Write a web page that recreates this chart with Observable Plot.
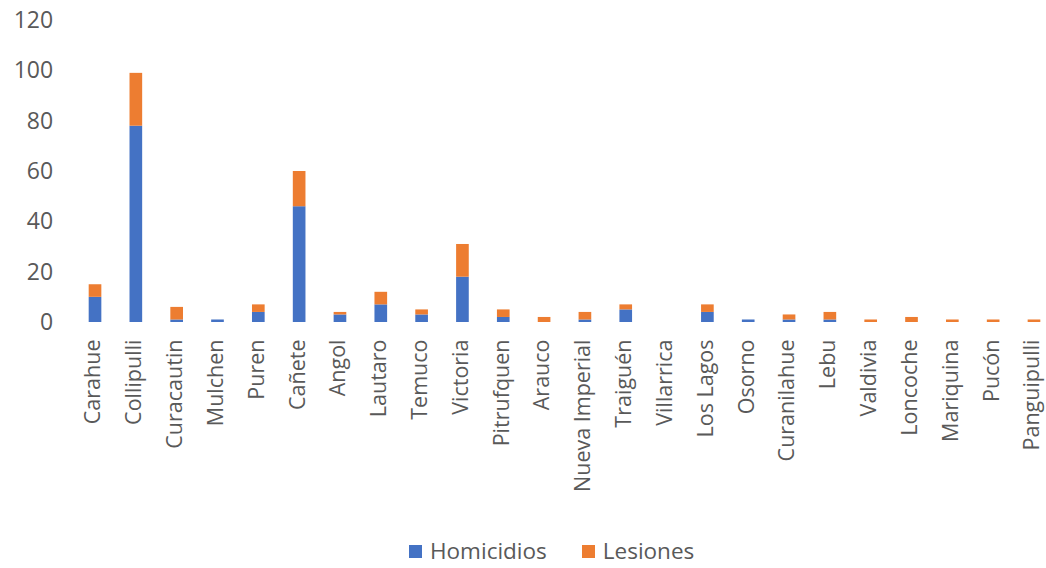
<!DOCTYPE html>
<html><head><meta charset="utf-8">
<script src="https://cdn.jsdelivr.net/npm/d3@7"></script>
<script src="https://cdn.jsdelivr.net/npm/@observablehq/plot@0.6"></script>
<style>
body{margin:0;background:#fff;font-family:"Open Sans",sans-serif;}
#wrap{position:relative;width:1046px;height:568px;overflow:hidden;}
#legend{position:absolute;top:535px;left:409px;display:flex;align-items:center;font-size:22.5px;color:#595959;line-height:32px;white-space:nowrap;}
#legend span.item{display:flex;align-items:center;margin-right:35px;}
#legend span.sw{display:inline-block;width:13px;height:13px;margin-right:8px;}
</style></head>
<body><div id="wrap"><div id="chart"></div><div id="legend"></div></div>
<script>
const comunas = ["Carahue","Collipulli","Curacautin","Mulchen","Puren","Cañete","Angol","Lautaro","Temuco","Victoria","Pitrufquen","Arauco","Nueva Imperial","Traiguén","Villarrica","Los Lagos","Osorno","Curanilahue","Lebu","Valdivia","Loncoche","Mariquina","Pucón","Panguipulli"];
const homicidios = [10,78,1,1,4,46,3,7,3,18,2,0,1,5,0,4,1,1,1,0,0,0,0,0];
const lesiones   = [5,21,5,0,3,14,1,5,2,13,3,2,3,2,0,3,0,2,3,1,2,1,1,1];
const series = ["Homicidios","Lesiones"];
const colors = ["#4472C4","#ED7D31"];
const yTicks = [0,20,40,60,80,100,120];

const data = [];
comunas.forEach((c,i)=>{
  data.push({comuna:c, serie:series[0], value:homicidios[i]});
  data.push({comuna:c, serie:series[1], value:lesiones[i]});
});

const chart = Plot.plot({
  width:1046, height:535,
  marginLeft:74.6, marginRight:-8.4, marginTop:20, marginBottom:213,
  style:{fontFamily:"'Open Sans', sans-serif", color:"#595959", background:"#fff"},
  x:{domain:comunas, paddingInner:0.69, paddingOuter:0.345, round:false, label:null},
  y:{domain:[0,120], label:null},
  color:{domain:series, range:colors},
  marks:[
    Plot.gridY(yTicks,{stroke:"#d9d9d9", strokeOpacity:1, strokeWidth:1.2, x1:73, x2:1046}),
    Plot.barY(data,{x:"comuna", y:"value", fill:"serie", order:series}),
    Plot.axisY({ticks:yTicks, tickSize:0, tickPadding:22, fontSize:23, label:null, fill:"#595959"}),
    Plot.axisX({tickSize:0, tickPadding:17, tickRotate:-90, fontSize:21.5, dx:-2, label:null, fill:"#595959"})
  ]
});
document.getElementById("chart").appendChild(chart);
document.getElementById("legend").innerHTML = series.map((s,i)=>`<span class="item"><span class="sw" style="background:${colors[i]}"></span>${s}</span>`).join("");
</script></body></html>
